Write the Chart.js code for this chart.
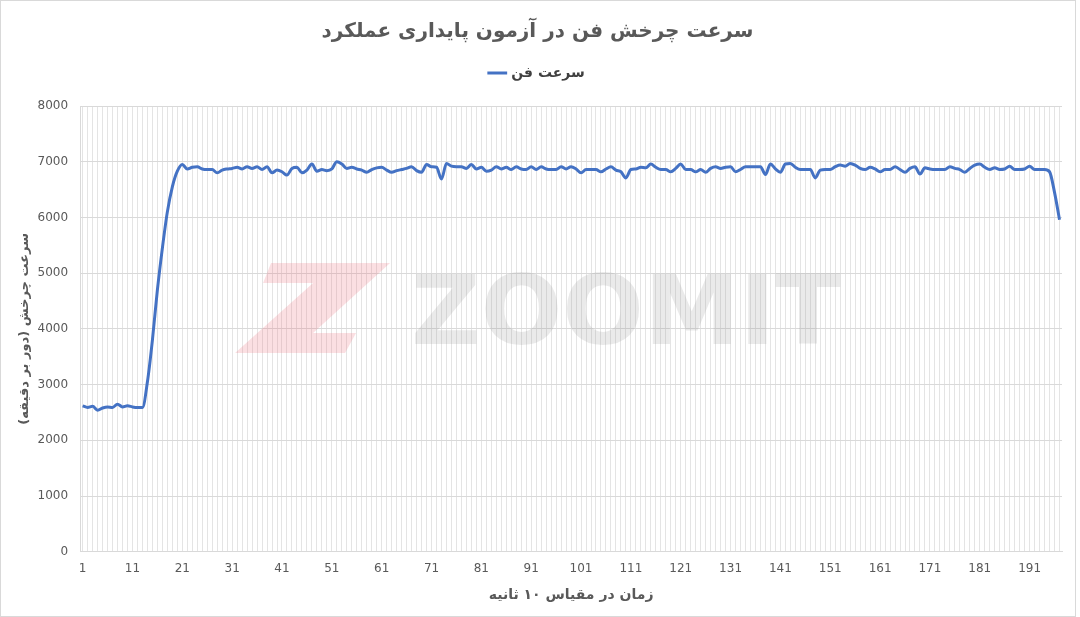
<!DOCTYPE html>
<html>
<head>
<meta charset="utf-8">
<script src="https://cdn.jsdelivr.net/npm/chart.js@4.4.1/dist/chart.umd.min.js"></script>
<style>
  html, body { margin: 0; padding: 0; background: #fff; }
  #wrap { width: 1080px; height: 617px; position: relative; }
</style>
</head>
<body>
<div id="wrap"><canvas id="fanChart"></canvas></div>
<script>
// fan speed (rpm), one sample every 10 seconds
const fanSpeed = [
    2620, 2590, 2610, 2540, 2580, 2600, 2590, 2650, 2600, 2620, 2600, 2590, 2590,
    3050, 3800, 4700, 5450, 6100, 6550, 6830,
    6950, 6870, 6900, 6910, 6870, 6860, 6860, 6800, 6850, 6870,
    6880, 6900, 6870, 6910, 6880, 6910, 6860, 6910, 6800, 6850,
    6820, 6760, 6880, 6900, 6800, 6850, 6960, 6830, 6860, 6840,
    6870, 7000, 6960, 6880, 6900, 6870, 6850, 6810, 6860, 6890,
    6900, 6850, 6810, 6840, 6860, 6880, 6910, 6840, 6810, 6950,
    6910, 6900, 6690, 6970, 6920, 6910, 6910, 6880, 6950, 6870,
    6900, 6830, 6850, 6910, 6870, 6900, 6860, 6910, 6870, 6860,
    6910, 6860, 6910, 6870, 6860, 6860, 6910, 6870, 6910, 6870,
    6800, 6860, 6860, 6860, 6820, 6870, 6910, 6850, 6820, 6710,
    6860, 6870, 6900, 6890, 6960, 6900, 6860, 6860, 6820, 6880,
    6960, 6860, 6860, 6820, 6860, 6810, 6880, 6910, 6880, 6900,
    6910, 6820, 6860, 6910, 6910, 6910, 6910, 6770, 6960, 6870,
    6810, 6960, 6970, 6900, 6860, 6860, 6860, 6710, 6850, 6860,
    6860, 6910, 6940, 6920, 6970, 6940, 6880, 6860, 6900, 6870,
    6820, 6860, 6860, 6910, 6860, 6810, 6880, 6910, 6780, 6890,
    6870, 6860, 6860, 6860, 6910, 6880, 6860, 6810, 6880, 6940,
    6960, 6900, 6860, 6890, 6860, 6870, 6920, 6860, 6860, 6870,
    6920, 6860, 6860, 6860, 6820, 6450, 5960
];
const timeSteps = fanSpeed.map((v, i) => i + 1);
const yTicks = [0, 1000, 2000, 3000, 4000, 5000, 6000, 7000, 8000];

const chartTitle = 'سرعت چرخش فن در آزمون پایداری عملکرد';
const seriesName = 'سرعت فن';
const yTitle = 'سرعت چرخش (دور بر دقیقه)';
const xTitle = 'زمان در مقیاس ۱۰ ثانیه';

const textGrey = '#595959';
const fontFam = '"DejaVu Sans", "Noto Sans", sans-serif';

// watermark, extra room under legend, outer frame
const decor = {
    id: 'decor',
    afterInit(chart) {
        const lg = chart.legend;
        const fit = lg.fit;
        lg.fit = function () { fit.call(this); this.height += 16; };
    },
    beforeDatasetsDraw(chart) {
        const { ctx, chartArea } = chart;
        const cx = (chartArea.left + chartArea.right) / 2;
        const cy = (chartArea.top + chartArea.bottom) / 2;
        ctx.save();
        // pink Z mark
        ctx.fillStyle = 'rgba(238, 110, 125, 0.22)';
        ctx.beginPath();
        ctx.moveTo(cx - 300, cy - 66);
        ctx.lineTo(cx - 181, cy - 66);
        ctx.lineTo(cx - 258, cy + 4);
        ctx.lineTo(cx - 215, cy + 4);
        ctx.lineTo(cx - 226, cy + 24);
        ctx.lineTo(cx - 336, cy + 24);
        ctx.lineTo(cx - 258, cy - 46);
        ctx.lineTo(cx - 308, cy - 46);
        ctx.closePath();
        ctx.fill();
        // grey word
        ctx.textBaseline = 'middle';
        ctx.textAlign = 'left';
        ctx.font = 'bold 96px "DejaVu Sans", sans-serif';
        ctx.fillStyle = 'rgba(150, 150, 150, 0.2)';
        ctx.fillText('ZOOMIT', cx - 160, cy - 10);
        ctx.restore();
    },
    afterDraw(chart) {
        const { ctx } = chart;
        ctx.save();
        ctx.strokeStyle = '#d9d9d9';
        ctx.lineWidth = 1;
        ctx.strokeRect(0.5, 0.5, 1075, 616);
        ctx.restore();
    }
};

new Chart(document.getElementById('fanChart'), {
    type: 'line',
    data: {
        labels: timeSteps,
        datasets: [{
            label: seriesName,
            data: fanSpeed,
            borderColor: '#4472C4',
            backgroundColor: '#4472C4',
            borderWidth: 3,
            pointRadius: 0,
            tension: 0.4,
            cubicInterpolationMode: 'monotone'
        }]
    },
    options: {
        responsive: true,
        maintainAspectRatio: false,
        animation: false,
        layout: { padding: { left: 13, right: 18, top: 8, bottom: 9 } },
        plugins: {
            title: {
                display: true,
                text: chartTitle,
                color: textGrey,
                font: { family: fontFam, size: 20, weight: 'bold' },
                padding: { top: 12, bottom: 12 }
            },
            legend: {
                display: true,
                labels: {
                    color: '#404040',
                    font: { family: fontFam, size: 14, weight: 'bold' },
                    usePointStyle: true,
                    pointStyle: 'line',
                    boxWidth: 22,
                    padding: 10
                }
            },
            tooltip: { enabled: false }
        },
        scales: {
            x: {
                offset: true,
                grid: { color: '#e4e4e4', drawTicks: false },
                border: { color: '#d9d9d9' },
                ticks: {
                    autoSkip: false,
                    maxRotation: 0,
                    color: textGrey,
                    padding: 10,
                    font: { family: fontFam, size: 12 },
                    callback: function (v, i) { return i % 10 === 0 ? this.getLabelForValue(v) : ''; }
                },
                title: {
                    display: true,
                    text: xTitle,
                    color: textGrey,
                    font: { family: fontFam, size: 14, weight: 'bold' },
                    padding: { top: 1 }
                }
            },
            y: {
                min: yTicks[0],
                max: yTicks[yTicks.length - 1],
                grid: { color: '#d9d9d9', drawTicks: false },
                border: { color: '#d9d9d9' },
                afterBuildTicks: axis => { axis.ticks = yTicks.map(v => ({ value: v })); },
                afterFit: axis => { axis.width -= 11; },
                ticks: {
                    color: textGrey,
                    padding: 12,
                    font: { family: fontFam, size: 12 },
                    callback: v => String(v)
                },
                title: {
                    display: true,
                    text: yTitle,
                    color: textGrey,
                    font: { family: fontFam, size: 13, weight: 'bold' },
                    padding: { bottom: 4 }
                }
            }
        }
    },
    plugins: [decor]
});
</script>
</body>
</html>
